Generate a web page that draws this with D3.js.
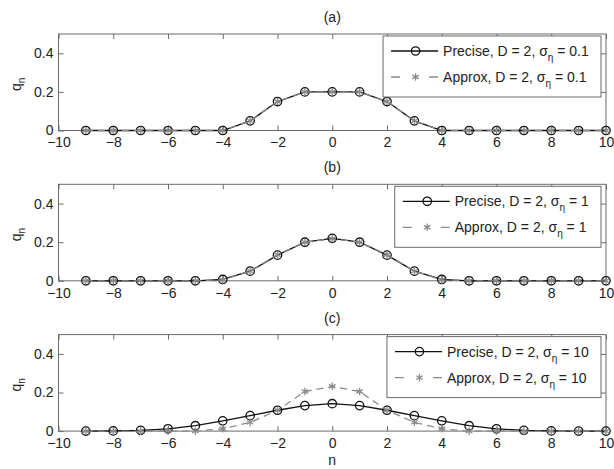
<!DOCTYPE html>
<html>
<head>
<meta charset="utf-8">
<script src="https://cdn.jsdelivr.net/npm/d3@7"></script>
<style>
body { margin: 0; background: #fff; }
text { font-family: "Liberation Sans", Arial, sans-serif; }
</style>
</head>
<body>
<div id="chart-area"></div>
<script>
// data
var nValues = [-9, -8, -7, -6, -5, -4, -3, -2, -1, 0, 1, 2, 3, 4, 5, 6, 7, 8, 9, 10]

var preciseA = [0, 0, 0, 0, 0, 0, 0.05, 0.15, 0.2, 0.2, 0.2, 0.15, 0.05, 0, 0, 0, 0, 0, 0, 0]
var approxA  = [0, 0, 0, 0, 0, 0, 0.05, 0.15, 0.2, 0.2, 0.2, 0.15, 0.05, 0, 0, 0, 0, 0, 0, 0]

var preciseB = [0, 0, 0, 0, 0, 0.007, 0.05, 0.133, 0.2, 0.22, 0.2, 0.133, 0.05, 0.007, 0, 0, 0, 0, 0, 0]
var approxB  = [0, 0, 0, 0, 0, 0.005, 0.05, 0.135, 0.2, 0.218, 0.2, 0.135, 0.05, 0.005, 0, 0, 0, 0, 0, 0]

var preciseC = [0, 0.001, 0.004, 0.012, 0.028, 0.053, 0.08, 0.108, 0.132, 0.142, 0.132, 0.108, 0.08, 0.053, 0.028, 0.012, 0.004, 0.001, 0, 0]
var approxC  = [0, 0, 0, 0, 0, 0.012, 0.045, 0.108, 0.205, 0.232, 0.205, 0.108, 0.045, 0.012, 0, 0, 0, 0, 0, 0]

var panelTitles = ["(a)", "(b)", "(c)"]
var sigmas = ["0.1", "1", "10"]
var xTicks = [-10, -8, -6, -4, -2, 0, 2, 4, 6, 8, 10]
var yTicks = [0, 0.2, 0.4]

var panels = [
  {title: panelTitles[0], sigma: sigmas[0], precise: preciseA, approx: approxA},
  {title: panelTitles[1], sigma: sigmas[1], precise: preciseB, approx: approxB},
  {title: panelTitles[2], sigma: sigmas[2], precise: preciseC, approx: approxC}
]

var width = 614
var height = 469
var left = 58.5, right = 606
var plotH = 96.5
var tops = [34, 184.3, 334.6]
var axisColor = "#6a6a6a"
var textColor = "#222"
var approxColor = "#8a8a8a"

var svg = d3.select("#chart-area").append("svg")
  .attr("width", width)
  .attr("height", height)
  .style("background", "#fff")

var x = d3.scaleLinear().domain([-10, 10]).range([left, right])

var asterisk = d3.symbol().type(d3.symbolAsterisk).size(40)

panels.forEach((p, i) => {
  var top = tops[i]
  var y = d3.scaleLinear().domain([0, 0.5]).range([top + plotH, top])

  var g = svg.append("g")

  // title
  g.append("text")
    .attr("x", (left + right) / 2)
    .attr("y", top - 12)
    .attr("text-anchor", "middle")
    .attr("font-size", "14px")
    .style("fill", textColor)
    .text(p.title)

  // box
  g.append("rect")
    .attr("x", left).attr("y", top)
    .attr("width", right - left).attr("height", plotH)
    .attr("fill", "none")
    .attr("stroke", axisColor)
    .attr("stroke-width", 1)

  // axes
  var xAxis = g.append("g")
    .attr("transform", "translate(0," + (top + plotH) + ")")
    .call(d3.axisBottom(x).tickValues(xTicks).tickSize(-5).tickPadding(7))
  var xTop = g.append("g")
    .attr("transform", "translate(0," + top + ")")
    .call(d3.axisTop(x).tickValues(xTicks).tickSize(-5).tickFormat(""))
  var yAxis = g.append("g")
    .attr("transform", "translate(" + left + ",0)")
    .call(d3.axisLeft(y).tickValues(yTicks).tickSize(-5).tickPadding(5).tickFormat(d => d))
  var yRight = g.append("g")
    .attr("transform", "translate(" + right + ",0)")
    .call(d3.axisRight(y).tickValues(yTicks).tickSize(-5).tickFormat(""))

  ;[xAxis, xTop, yAxis, yRight].forEach(a => {
    a.select(".domain").remove()
    a.selectAll(".tick line").attr("stroke", axisColor)
    a.selectAll("text")
      .attr("font-size", "14px")
      .attr("font-family", "Liberation Sans, Arial, sans-serif")
      .style("fill", textColor)
  })

  // y label
  var yl = g.append("text")
    .attr("transform", "translate(21," + (top + plotH / 2 + 2) + ") rotate(-90)")
    .attr("text-anchor", "middle")
    .attr("font-size", "14px")
    .style("fill", textColor)
  yl.append("tspan").text("q")
  yl.append("tspan").attr("font-size", "10px").attr("dy", 4).text("n")

  // lines
  var line = (vals) => d3.line()
    .x((d, j) => x(nValues[j]))
    .y(d => y(d))(vals)

  g.append("path")
    .attr("d", line(p.precise))
    .attr("fill", "none")
    .attr("stroke", "#111")
    .attr("stroke-width", 1.3)

  g.selectAll(".pmark").data(p.precise).enter().append("circle")
    .attr("class", "pmark")
    .attr("cx", (d, j) => x(nValues[j]))
    .attr("cy", d => y(d))
    .attr("r", 4.2)
    .attr("fill", "none")
    .attr("stroke", "#111")
    .attr("stroke-width", 1.3)

  g.append("path")
    .attr("d", line(p.approx))
    .attr("fill", "none")
    .attr("stroke", approxColor)
    .attr("stroke-width", 1.3)
    .attr("stroke-dasharray", "7,5")

  g.selectAll(".amark").data(p.approx).enter().append("path")
    .attr("class", "amark")
    .attr("transform", (d, j) => "translate(" + x(nValues[j]) + "," + y(d) + ")")
    .attr("d", asterisk)
    .attr("fill", "none")
    .attr("stroke", approxColor)
    .attr("stroke-width", 1.3)

  // legend
  var lg = g.append("g")
  var box = lg.append("rect")
    .attr("fill", "#fff")
    .attr("stroke", axisColor)
    .attr("stroke-width", 1)

  var ry1 = top + 17, ry2 = top + 43
  var labels = ["Precise", "Approx"]
  var textWidths = []
  labels.forEach((lab, k) => {
    var t = lg.append("text")
      .attr("class", "ltext")
      .attr("x", 0)
      .attr("y", (k === 0 ? ry1 : ry2) + 5)
      .attr("font-size", "14px")
      .style("fill", textColor)
    t.append("tspan").text(lab + ", D = 2, σ")
    t.append("tspan").attr("font-size", "10px").attr("dy", 5).text("η")
    t.append("tspan").attr("dy", -5).text("\u00a0= " + p.sigma)
    textWidths.push(t.node().getBBox().width)
  })
  var tw = d3.max(textWidths)
  var lRight = right - 5
  var lLeft = lRight - (tw + 60 + 12)
  box.attr("x", lLeft).attr("y", top + 2)
    .attr("width", lRight - lLeft).attr("height", 61)
  lg.selectAll(".ltext").attr("x", lLeft + 60)

  lg.append("line")
    .attr("x1", lLeft + 8).attr("x2", lLeft + 55)
    .attr("y1", ry1).attr("y2", ry1)
    .attr("stroke", "#111").attr("stroke-width", 1.3)
  lg.append("circle")
    .attr("cx", lLeft + 32.5).attr("cy", ry1).attr("r", 4.2)
    .attr("fill", "none").attr("stroke", "#111").attr("stroke-width", 1.3)
  lg.append("line")
    .attr("x1", lLeft + 8).attr("x2", lLeft + 55)
    .attr("y1", ry2).attr("y2", ry2)
    .attr("stroke", approxColor).attr("stroke-width", 1.3)
    .attr("stroke-dasharray", "9,29")
  lg.append("path")
    .attr("transform", "translate(" + (lLeft + 32.5) + "," + ry2 + ")")
    .attr("d", asterisk)
    .attr("fill", "none").attr("stroke", approxColor).attr("stroke-width", 1.3)

  // x label on last panel
  if (i === panels.length - 1) {
    g.append("text")
      .attr("x", (left + right) / 2)
      .attr("y", top + plotH + 34)
      .attr("text-anchor", "middle")
      .attr("font-size", "14px")
      .style("fill", textColor)
      .text("n")
  }
})
</script>
</body>
</html>
